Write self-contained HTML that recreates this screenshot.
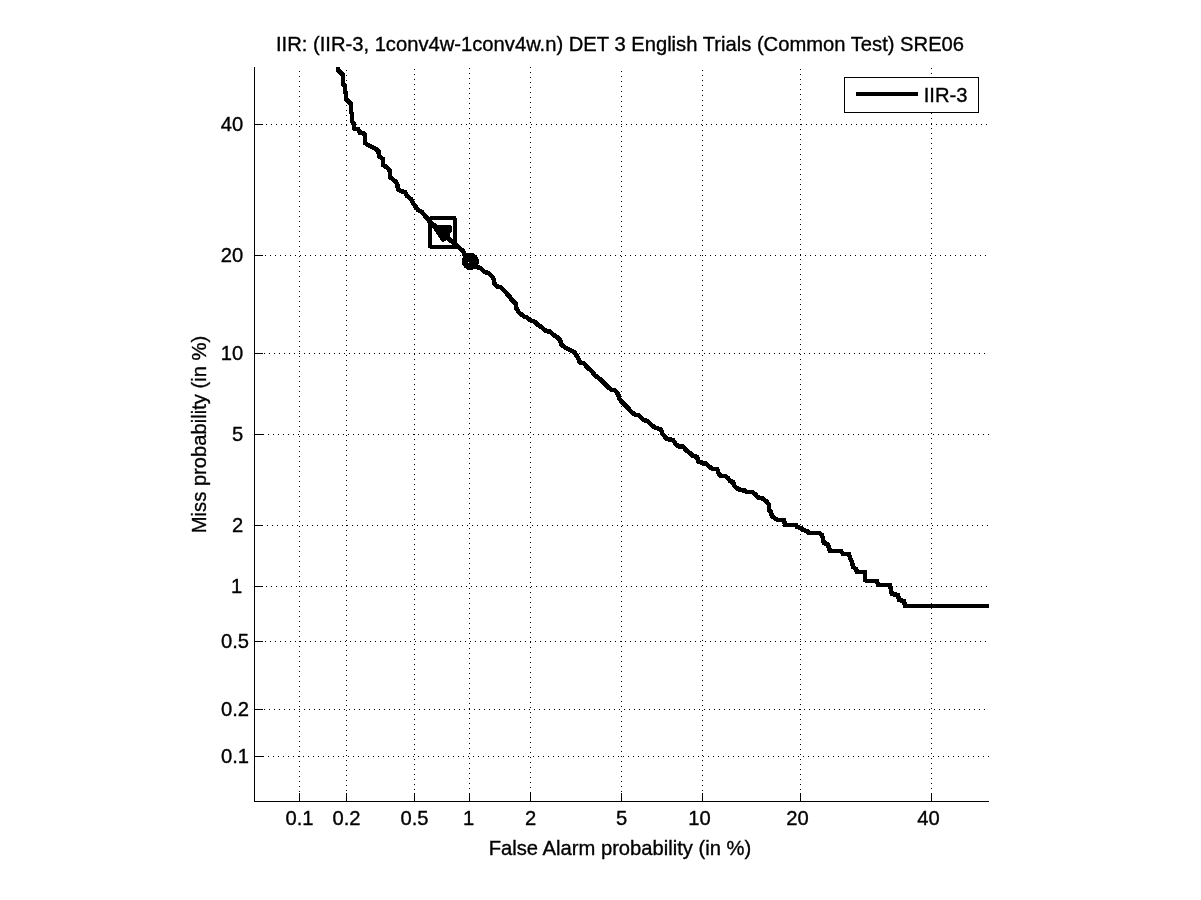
<!DOCTYPE html>
<html lang="en"><head><meta charset="utf-8"><title>DET plot</title>
<style>html,body{margin:0;padding:0;background:#fff;}body{width:1201px;height:900px;overflow:hidden;}svg{display:block;will-change:transform;}text{font-family:"Liberation Sans",Arial,Helvetica,sans-serif;font-size:20.2px;fill:#000;stroke:#000;stroke-width:0.35px;}</style></head><body>
<svg width="1201" height="900" viewBox="0 0 1201 900">
<rect width="1201" height="900" fill="#fff"/>
<g shape-rendering="crispEdges" fill="#000">
<line x1="299.5" y1="71" x2="299.5" y2="793" stroke="#000" stroke-width="1" stroke-dasharray="1 4"/>
<line x1="346.5" y1="70" x2="346.5" y2="793" stroke="#000" stroke-width="1" stroke-dasharray="1 4"/>
<line x1="414.5" y1="69" x2="414.5" y2="793" stroke="#000" stroke-width="1" stroke-dasharray="1 4"/>
<line x1="469.5" y1="68" x2="469.5" y2="793" stroke="#000" stroke-width="1" stroke-dasharray="1 4"/>
<line x1="530.5" y1="67" x2="530.5" y2="793" stroke="#000" stroke-width="1" stroke-dasharray="1 4"/>
<line x1="621.5" y1="71" x2="621.5" y2="793" stroke="#000" stroke-width="1" stroke-dasharray="1 4"/>
<line x1="702.5" y1="70" x2="702.5" y2="793" stroke="#000" stroke-width="1" stroke-dasharray="1 4"/>
<line x1="800.5" y1="69" x2="800.5" y2="793" stroke="#000" stroke-width="1" stroke-dasharray="1 4"/>
<line x1="931.5" y1="68" x2="931.5" y2="793" stroke="#000" stroke-width="1" stroke-dasharray="1 4"/>
<line x1="266" y1="124.5" x2="989" y2="124.5" stroke="#000" stroke-width="1" stroke-dasharray="1 4"/>
<line x1="265" y1="255.5" x2="989" y2="255.5" stroke="#000" stroke-width="1" stroke-dasharray="1 4"/>
<line x1="264" y1="353.5" x2="989" y2="353.5" stroke="#000" stroke-width="1" stroke-dasharray="1 4"/>
<line x1="263" y1="434.5" x2="989" y2="434.5" stroke="#000" stroke-width="1" stroke-dasharray="1 4"/>
<line x1="267" y1="525.5" x2="989" y2="525.5" stroke="#000" stroke-width="1" stroke-dasharray="1 4"/>
<line x1="266" y1="586.5" x2="989" y2="586.5" stroke="#000" stroke-width="1" stroke-dasharray="1 4"/>
<line x1="265" y1="641.5" x2="989" y2="641.5" stroke="#000" stroke-width="1" stroke-dasharray="1 4"/>
<line x1="264" y1="709.5" x2="989" y2="709.5" stroke="#000" stroke-width="1" stroke-dasharray="1 4"/>
<line x1="263" y1="756.5" x2="989" y2="756.5" stroke="#000" stroke-width="1" stroke-dasharray="1 4"/>
<rect x="254" y="67" width="1" height="735"/>
<rect x="254" y="801" width="735" height="1"/>
<rect x="299" y="793" width="1" height="8"/>
<rect x="346" y="793" width="1" height="8"/>
<rect x="414" y="793" width="1" height="8"/>
<rect x="469" y="793" width="1" height="8"/>
<rect x="530" y="793" width="1" height="8"/>
<rect x="621" y="793" width="1" height="8"/>
<rect x="702" y="793" width="1" height="8"/>
<rect x="800" y="793" width="1" height="8"/>
<rect x="931" y="793" width="1" height="8"/>
<rect x="255" y="124" width="8" height="1"/>
<rect x="255" y="255" width="8" height="1"/>
<rect x="255" y="353" width="8" height="1"/>
<rect x="255" y="434" width="8" height="1"/>
<rect x="255" y="525" width="8" height="1"/>
<rect x="255" y="586" width="8" height="1"/>
<rect x="255" y="641" width="8" height="1"/>
<rect x="255" y="709" width="8" height="1"/>
<rect x="255" y="756" width="8" height="1"/>
</g>
<g shape-rendering="crispEdges" fill="none" stroke="#000">
<polyline points="338,67 338,70 343,75 343,84 345,86 345,92 346,93 346,99 351,104 351,112 352,114 352,121 354,124 354,128 355,129 358,129 360,132.5 363,133 365,135 365,143 368,145 375,148.5 378.5,151 379,156 383,159 383,165 387,167.5 390,171 390,177 393,179.5 395.5,181.5 397.5,185 398,189 400.5,191 405,192 407,196 411,199 413,203 416,207 418,210 422,212 425,216 428,219 429,221 435,226 440,231 445,236 450,240 455,244 459.3,248 463,251 464.5,254.5 468.5,260 470,261.5 477.5,267.2 481,268.5 484.5,271.8 489,273.5 492.2,276.8 494,280 494.4,283.3 496.7,286.2 500.5,287.2 505,291.5 509,296 512,300 515.5,303.5 516.5,309 519.5,313 524,316.5 527,317.5 530,320 535,322 538,325 542,327.5 546,331 550,331.5 553,334.5 557,337 560,340 561.5,344.5 565,347.5 570,350 574,352 575,353 578,358 580,362.5 584,363.5 588,368 592,371.5 595,375.5 600,379 604,383 607,386 611,389.5 615,390.5 618,394 619.5,399 623,403 627,407 631,411.5 635,414.5 639,415.5 643,419.5 648,421.5 651,424.5 655,427.5 661,429.5 662.5,434 667,439 673,440 676,444.5 679,446.5 683,446.5 686,450 690,453 693,456 697,457 698.5,461.5 702,463 706,463.5 709,466.5 713,469 717,469 719,474 721,476 725,476 728,478 730,481 733,482 734.5,486 738,489 741,490 745,490.5 747,492 752,492 755,494 758,497.5 763,498.5 767,502 769,505 769,510 771,512 772,516 776,519 778,520 784,520 785,525 796,525 797,527 801,528 803,530 807,531 809,533 819,533 822,535 823,539 824,543 828,544.5 829,548 830,551 841,551 843,554 849,554 850,558 852,562 853,567 856,569 857,572 865,572 865,580 867,581 877,581 878,585 890,585 891,590 892,594 898,595 899,600 904,601 905,606 989,606" stroke-width="4.6" stroke-linejoin="miter" stroke-miterlimit="3"/>
<g fill="#000" stroke="none"><rect x="430" y="216" width="26" height="4"/><rect x="430" y="245" width="26" height="4"/><rect x="428" y="218" width="4" height="30"/><rect x="453" y="218" width="4" height="30"/></g>
<path d="M432 225 L451 225 L452.2 228.4 L452.2 231.6 L450 233 L450 238.5 L448 239.8 L445.8 240.5 L443.3 242 L440.9 240.5 L432 227 Z" fill="#000" stroke="none"/>
<circle cx="470.4" cy="261.5" r="8.6" fill="#000" stroke="none"/><rect x="468" y="262" width="1" height="1" fill="#fff" stroke="none"/>
<rect x="844.5" y="77.5" width="134" height="35" fill="#fff" stroke-width="1"/>
<line x1="856" y1="94" x2="918" y2="94" stroke-width="4"/>
</g>
<text x="967.5" y="102" text-anchor="end">IIR-3</text>
<text x="620" y="51" text-anchor="middle">IIR: (IIR-3, 1conv4w-1conv4w.n) DET 3 English Trials (Common Test) SRE06</text>
<text x="620" y="855" text-anchor="middle">False Alarm probability (in %)</text>
<text transform="translate(206,434.5) rotate(-90)" text-anchor="middle">Miss probability (in %)</text>
<g style="font-size:20.8px">
<text x="299.5" y="824.5" text-anchor="middle">0.1</text>
<text x="346.5" y="824.5" text-anchor="middle">0.2</text>
<text x="414.5" y="824.5" text-anchor="middle">0.5</text>
<text x="468.5" y="824.5" text-anchor="middle">1</text>
<text x="530.5" y="824.5" text-anchor="middle">2</text>
<text x="621.5" y="824.5" text-anchor="middle">5</text>
<text x="699.6" y="824.5" text-anchor="middle">10</text>
<text x="797.6" y="824.5" text-anchor="middle">20</text>
<text x="928.6" y="824.5" text-anchor="middle">40</text>
<text x="243.2" y="130.6" text-anchor="end">40</text>
<text x="243.2" y="261.6" text-anchor="end">20</text>
<text x="243.2" y="359.6" text-anchor="end">10</text>
<text x="243.2" y="440.6" text-anchor="end">5</text>
<text x="243.2" y="531.6" text-anchor="end">2</text>
<text x="242.2" y="592.6" text-anchor="end">1</text>
<text x="249" y="647.6" text-anchor="end">0.5</text>
<text x="249" y="715.6" text-anchor="end">0.2</text>
<text x="249" y="762.6" text-anchor="end">0.1</text>
</g>
</svg></body></html>
